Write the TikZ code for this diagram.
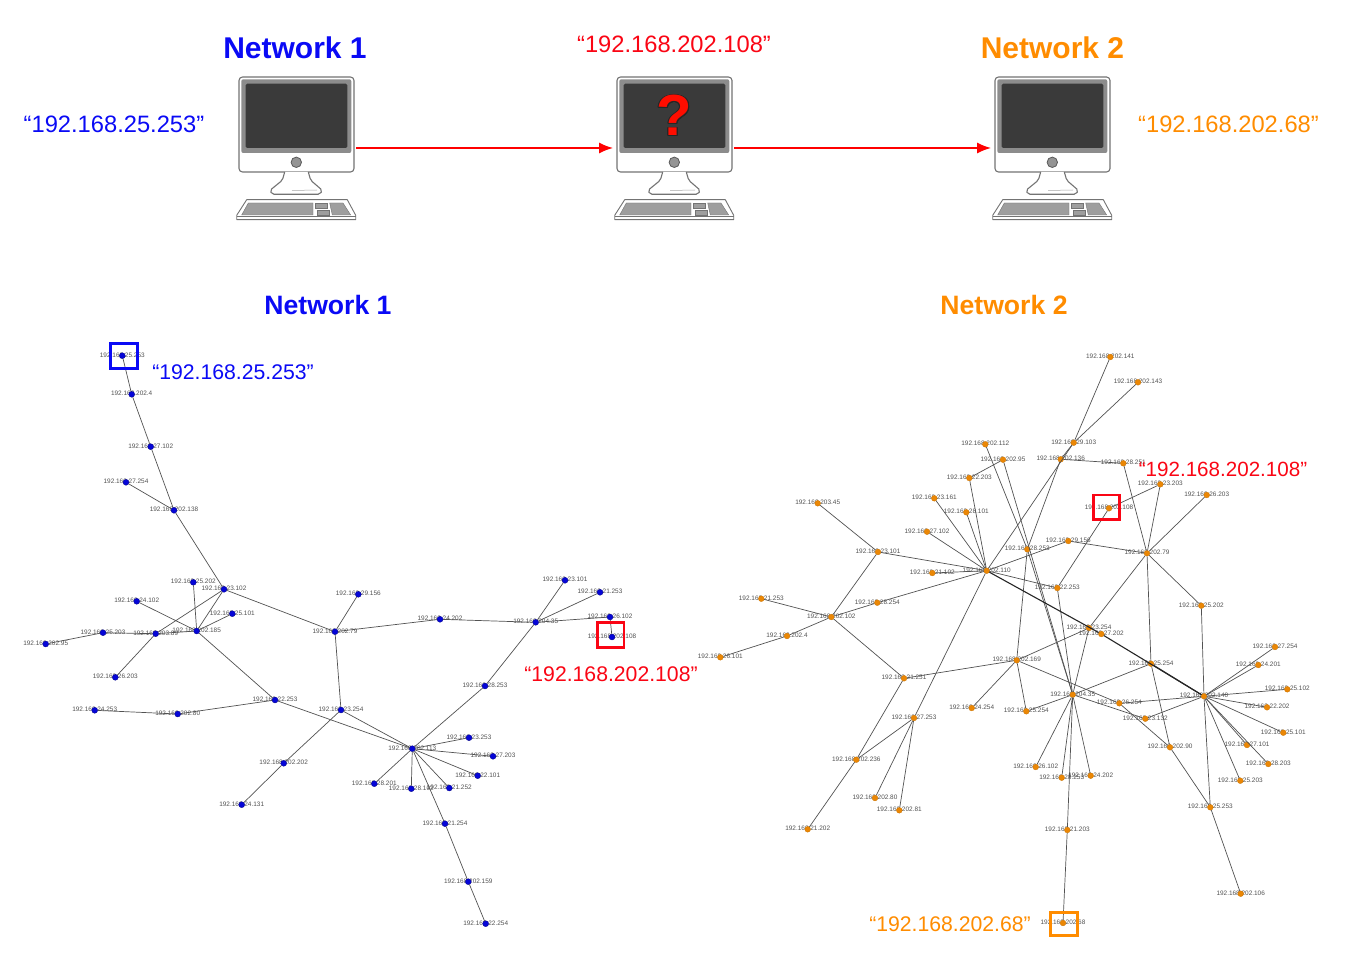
\documentclass[tikz,border=0pt]{standalone}
\usepackage{fontspec}
\usepackage{contour}
\usetikzlibrary{arrows.meta}
\setmainfont{Liberation Sans}
\contourlength{0.8pt}
\definecolor{netblue}{RGB}{10,10,245}
\definecolor{netorange}{RGB}{255,140,0}
\definecolor{netred}{RGB}{250,5,20}
\definecolor{dotblue}{RGB}{5,5,215}
\definecolor{dotorange}{RGB}{235,135,5}
\definecolor{screen}{RGB}{58,58,58}
\tikzset{
  bigtitle/.style={font=\fontsize{30}{32}\selectfont\bfseries,inner sep=0pt},
  subtitle/.style={font=\fontsize{26.6}{28}\selectfont\bfseries,inner sep=0pt},
  bigaddr/.style={font=\fontsize{23.7}{26}\selectfont,inner sep=0pt},
  smalladdr/.style={font=\fontsize{21.2}{24}\selectfont,inner sep=0pt},
  lab/.style={font=\fontsize{6.45}{7}\selectfont,text=black!68,inner sep=0pt},
  bdot/.style={circle,fill=dotblue,draw=black!40!dotblue,line width=.3pt,minimum size=6pt,inner sep=0pt},
  odot/.style={circle,fill=dotorange,draw=black!15!dotorange,line width=.3pt,minimum size=5.8pt,inner sep=0pt},
  lnk/.style={draw=black!68,line width=.7pt},
  heavylnk/.style={draw=black!85,line width=1.1pt},
  mark box/.style={line width=2.8pt,draw=#1},
  flow/.style={draw=red,line width=1.4pt,-{Latex[length=14pt,width=11pt]}},
  pc line/.style={draw=black!55,line width=1.1pt,line join=round},
  pics/computer/.style={code={
    \path[pc line,fill=white,rounded corners=3.5pt] (0,0) rectangle (115,95);
    \path[fill=black!45,rounded corners=2pt] (2.3,2.3) rectangle (112.3,76);
    \path[fill=screen,rounded corners=1.5pt] (6.7,6.7) rectangle (108.3,71);
    \path[fill=black!42,draw=black!65,line width=.8pt] (57.3,85.3) circle (5.2);
    \path[pc line,fill=white,rounded corners=2pt] (45.7,95) -- (43.3,103.3) -- (31,113.3) -- (33,117.3) -- (81,117.3) -- (83.3,113.3) -- (71.7,103.3) -- (69.3,95);
    \draw[black!35,line width=.5pt] (53,113.5) -- (78,113);
    \path[pc line,fill=white,line width=.9pt] (7.7,122.7) -- (108.3,122.7) -- (116.7,138.3) -- (116.7,142.7) -- (-2.3,142.7) -- (-2.3,138.3) -- cycle;
    \draw[black!55,line width=.6pt] (-2.3,138.9) -- (116.7,138.9);
    \path[fill=black!38,draw=black!55,line width=.4pt] (9.3,126) -- (74,126) -- (74,138) -- (2.7,138) -- cycle;
    \path[fill=black!38,draw=black!55,line width=.4pt] (76,126) rectangle (87.7,131.3);
    \path[fill=black!38,draw=black!55,line width=.4pt] (77.7,133.3) rectangle (90,138);
    \path[fill=black!38,draw=black!55,line width=.4pt] (90.7,126) -- (104,126) -- (111.7,138) -- (93.3,138) -- cycle;
    \coordinate (-in) at (-4,71);
    \coordinate (-out) at (117,71);
    \coordinate (-face) at (57.3,39);
  }}
}
\newcommand{\bn}[4]{\node[lab] (#1t) at (#2,#3-.8) {#4}; \node[bdot] (#1) at (#2,#3) {};}
\newcommand{\on}[4]{\node[lab] (#1t) at (#2,#3-.6) {#4}; \node[odot] (#1) at (#2,#3) {};}
\begin{document}
\begin{tikzpicture}[x=1pt,y=-1pt]
\useasboundingbox (0,0) rectangle (1371,973);
% top row
\pic (pca) at (239,77) {computer};
\pic (pcb) at (617,77) {computer};
\pic (pcc) at (995,77) {computer};
\node[inner sep=0pt,text=red!90!orange,font=\fontsize{58}{58}\selectfont\bfseries] (qmark) at (pcb-face) {\contour{black!85}{?}};
\draw[flow] (pca-out) -- (pcb-in);
\draw[flow] (pcb-out) -- (pcc-in);
\node[bigtitle,text=netblue] (t1) at (295,48) {Network 1};
\node[bigtitle,text=netorange] (t2) at (1052.5,48) {Network 2};
\node[bigaddr,text=netblue] (ad1) at (114,124.5) {“192.168.25.253”};
\node[bigaddr,text=netred] (ad2) at (674,44.5) {“192.168.202.108”};
\node[bigaddr,text=netorange] (ad3) at (1228.5,124.5) {“192.168.202.68”};
\node[subtitle,text=netblue] (t3) at (328,305) {Network 1};
\node[subtitle,text=netorange] (t4) at (1004,305) {Network 2};
% ---- Network 1 nodes
\bn{a25x253}{122.3}{355.7}{192.168.25.253}
\bn{a202x4}{131.7}{394.3}{192.168.202.4}
\bn{a27x102}{150.7}{446.7}{192.168.27.102}
\bn{a27x254}{126}{482.3}{192.168.27.254}
\bn{a202x138}{174}{510.3}{192.168.202.138}
\bn{a23x102}{224}{589.3}{192.168.23.102}
\bn{a25x202}{193.3}{582.3}{192.168.25.202}
\bn{a24x102}{136.7}{601.3}{192.168.24.102}
\bn{a25x101}{232.3}{613.7}{192.168.25.101}
\bn{a202x185}{196.7}{631}{192.168.202.185}
\bn{a203x89}{155.7}{633.7}{192.168.203.89}
\bn{a25x203}{103}{632.7}{192.168.25.203}
\bn{a202x95}{45.7}{644}{192.168.202.95}
\bn{a26x203}{115.3}{677.3}{192.168.26.203}
\bn{a202x79}{335}{631.7}{192.168.202.79}
\bn{a22x253}{275}{700}{192.168.22.253}
\bn{a202x80}{177.7}{714}{192.168.202.80}
\bn{a24x253}{94.7}{710.3}{192.168.24.253}
\bn{a23x254}{341}{710}{192.168.23.254}
\bn{a202x202}{283.7}{763.3}{192.168.202.202}
\bn{a24x131}{241.7}{804.7}{192.168.24.131}
\bn{a29x156}{358.3}{594.3}{192.168.29.156}
\bn{a24x202}{440}{619.3}{192.168.24.202}
\bn{a204x35}{535.7}{622.3}{192.168.204.35}
\bn{a23x101}{565}{580.3}{192.168.23.101}
\bn{a21x253}{600}{592.3}{192.168.21.253}
\bn{a26x102}{610}{617}{192.168.26.102}
\bn{a202x108}{612}{637}{192.168.202.108}
\bn{a28x253}{485}{686}{192.168.28.253}
\bn{a202x113}{412.3}{748.7}{192.168.202.113}
\bn{a23x253}{469}{737.7}{192.168.23.253}
\bn{a27x203}{493}{756.3}{192.168.27.203}
\bn{a22x101}{477.7}{775.7}{192.168.22.101}
\bn{a21x252}{449.3}{788}{192.168.21.252}
\bn{a28x102}{411.3}{788.7}{192.168.28.102}
\bn{a28x201}{374.3}{783.7}{192.168.28.201}
\bn{a21x254}{445}{823.7}{192.168.21.254}
\bn{a202x159}{468.3}{881.7}{192.168.202.159}
\bn{a22x254}{485.7}{923.7}{192.168.22.254}
\foreach \p/\q in {a25x253/a202x4,a202x4/a27x102,a27x102/a202x138,a27x254/a202x138,a202x138/a23x102,
  a23x102/a203x89,a203x89/a26x203,a23x102/a202x185,a23x102/a202x79,a25x202/a202x185,a24x102/a202x185,
  a25x101/a202x185,a202x185/a203x89,a203x89/a25x203,a25x203/a202x95,a202x185/a22x253,a22x253/a202x80,
  a202x80/a24x253,a22x253/a202x113,a202x79/a23x254,a202x79/a29x156,a202x79/a24x202,a24x202/a204x35,
  a204x35/a23x101,a204x35/a21x253,a204x35/a26x102,a26x102/a202x108,a204x35/a28x253,a28x253/a202x113,
  a23x254/a202x113,a23x254/a202x202,a202x202/a24x131,a202x113/a23x253,a202x113/a27x203,a202x113/a22x101,
  a202x113/a21x252,a202x113/a28x102,a202x113/a28x201,a202x113/a21x254,a21x254/a202x159,a202x159/a22x254}
  \draw[lnk] (\p) -- (\q);
% ---- Network 2 nodes
\on{c202x112}{985.3}{444.3}{192.168.202.112}
\on{c202x95}{1003}{459.7}{192.168.202.95}
\on{c22x203}{969.3}{478}{192.168.22.203}
\on{c23x161}{934.3}{498.3}{192.168.23.161}
\on{c28x101}{966.3}{512.3}{192.168.28.101}
\on{c27x102}{927}{531.7}{192.168.27.102}
\on{c203x45}{817.7}{503.3}{192.168.203.45}
\on{c23x101}{878}{552}{192.168.23.101}
\on{c21x102}{932.3}{573}{192.168.21.102}
\on{c202x110}{986.7}{570.7}{192.168.202.110}
\on{c28x254}{877.3}{602.7}{192.168.28.254}
\on{c21x253}{761.3}{598.7}{192.168.21.253}
\on{c202x102}{831.3}{617}{192.168.202.102}
\on{c202x4}{787}{636}{192.168.202.4}
\on{c26x101}{720.3}{657.3}{192.168.26.101}
\on{c21x251}{904}{678.3}{192.168.21.251}
\on{c202x169}{1016.7}{660.3}{192.168.202.169}
\on{c202x141}{1110.3}{357}{192.168.202.141}
\on{c202x143}{1138}{382.3}{192.168.202.143}
\on{c29x103}{1073.7}{442.7}{192.168.29.103}
\on{c202x136}{1060.7}{459.3}{192.168.202.136}
\on{c28x251}{1123.3}{463.3}{192.168.28.251}
\on{c23x203}{1160.3}{484.3}{192.168.23.203}
\on{c26x203}{1206.7}{495}{192.168.26.203}
\on{c202x108}{1109}{508.3}{192.168.202.108}
\on{c29x156}{1068.3}{541}{192.168.29.156}
\on{c28x253}{1027.3}{549.3}{192.168.28.253}
\on{c202x79}{1147}{553.3}{192.168.202.79}
\on{c22x253}{1057.3}{588}{192.168.22.253}
\on{c25x202}{1201.3}{605.7}{192.168.25.202}
\on{c23x254}{1089}{628}{192.168.23.254}
\on{c27x202}{1101.3}{634}{192.168.27.202}
\on{c25x254b}{1151}{663.7}{192.168.25.254}
\on{c27x254}{1275}{647}{192.168.27.254}
\on{c24x201}{1258.3}{665}{192.168.24.201}
\on{c27x253}{914}{718}{192.168.27.253}
\on{c202x236}{856.3}{759.7}{192.168.202.236}
\on{c202x80}{875}{798}{192.168.202.80}
\on{c202x81}{899.3}{810.3}{192.168.202.81}
\on{c21x202}{807.7}{829.3}{192.168.21.202}
\on{c24x254}{971.7}{708}{192.168.24.254}
\on{c25x254}{1026.3}{711.3}{192.168.25.254}
\on{c26x102}{1035.7}{767}{192.168.26.102}
\on{c28x255}{1061.7}{777.7}{192.168.28.253}
\on{c21x203}{1067.3}{830}{192.168.21.203}
\on{c202x68}{1063}{923}{192.168.202.68}
\on{c204x35}{1072.7}{694.7}{192.168.204.35}
\on{c202x140}{1204}{696.3}{192.168.202.140}
\on{c26x254}{1119.3}{703.3}{192.168.26.254}
\on{c23x132}{1145.3}{718.7}{192.168.23.132}
\on{c202x90}{1170}{747.3}{192.168.202.90}
\on{c24x202}{1090.7}{775.7}{192.168.24.202}
\on{c25x253}{1210.3}{807.3}{192.168.25.253}
\on{c202x106}{1240.7}{893.7}{192.168.202.106}
\on{c25x102}{1287.3}{689.3}{192.168.25.102}
\on{c22x202}{1267}{707.3}{192.168.22.202}
\on{c25x101}{1283.3}{732.7}{192.168.25.101}
\on{c27x101}{1247}{745}{192.168.27.101}
\on{c28x203}{1268.3}{764}{192.168.28.203}
\on{c25x203}{1240.3}{780.7}{192.168.25.203}
\foreach \p/\q in {c202x141/c29x103,c202x143/c29x103,c29x103/c202x110,c202x136/c29x103,c202x136/c28x251,
  c202x136/c28x253,c28x251/c202x79,c202x79/c23x203,c202x79/c26x203,c202x79/c29x156,c29x156/c202x110,
  c202x79/c25x202,c202x79/c23x254,c202x79/c25x254b,c23x203/c202x108,c202x108/c22x253,c22x253/c202x110,
  c22x253/c204x35,c23x254/c202x169,c23x254/c204x35,c25x202/c202x140,c202x140/c27x254,c202x140/c24x201,
  c202x140/c25x102,c202x140/c22x202,c202x140/c25x101,c202x140/c27x101,c202x140/c28x203,c202x140/c25x203,
  c202x140/c25x253,c202x140/c26x254,c202x140/c23x132,c25x254b/c204x35,c25x254b/c202x90,c202x90/c25x253,
  c25x253/c202x106,c202x169/c26x254,c26x254/c202x90,c204x35/c23x132,c202x169/c21x251,c202x169/c24x254,
  c202x169/c25x254,c202x169/c28x253,c25x254/c204x35,c26x102/c204x35,c28x255/c204x35,c21x203/c204x35,
  c24x202/c204x35,c21x203/c202x68,c28x253/c204x35,c202x112/c28x253,c202x95/c22x203,c202x95/c204x35,
  c22x203/c202x110,c23x161/c202x110,c28x101/c202x110,c27x102/c202x110,c23x101/c202x110,c21x102/c202x110,
  c28x254/c202x110,c27x253/c202x110,c203x45/c23x101,c23x101/c202x102,c202x102/c21x253,c202x102/c202x4,
  c202x4/c26x101,c202x102/c28x254,c202x102/c21x251,c21x251/c202x236,c202x236/c21x202,c202x236/c27x253,
  c27x253/c202x80,c27x253/c202x81}
  \draw[lnk] (\p) -- (\q);
\draw[heavylnk] (c202x110) -- (c27x202);
\draw[heavylnk] (c27x202) -- (c202x140);
\draw[heavylnk] (c25x254b) -- (c202x140);
% ---- callouts
\node[smalladdr,text=netblue] (ad4) at (233,372) {“192.168.25.253”};
\node[smalladdr,text=netred] (ad5) at (611,674) {“192.168.202.108”};
\node[smalladdr,text=netred,font=\fontsize{20.6}{24}\selectfont] (ad6) at (1223,469) {“192.168.202.108”};
\node[smalladdr,text=netorange] (ad7) at (950,924.5) {“192.168.202.68”};
\draw[mark box=netblue] (110.7,343.3) rectangle (137.3,368.3);
\draw[mark box=netred] (597.7,622.7) rectangle (624,647.7);
\draw[mark box=netred] (1093.3,495) rectangle (1119.3,519.3);
\draw[mark box=netorange] (1050.7,912.7) rectangle (1077.3,935.7);
\end{tikzpicture}
\end{document}
